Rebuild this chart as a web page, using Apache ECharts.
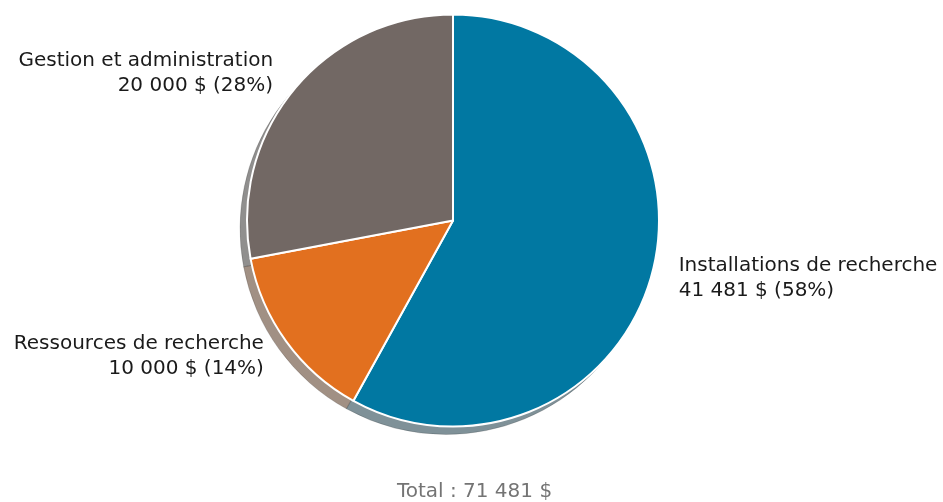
<!DOCTYPE html>
<html>
<head>
<meta charset="utf-8">
<script src="https://cdn.jsdelivr.net/npm/echarts@6/dist/echarts.min.js"></script>
<style>
html,body{margin:0;padding:0;background:#fff;}
#chart{width:943px;height:502px;}
</style>
</head>
<body>
<div id="chart"></div>
<script>
const categories = ['Installations de recherche', 'Ressources de recherche', 'Gestion et administration'];
const values = [41481, 10000, 20000];
const sliceColors = ['#0178A2', '#E2701F', '#726864'];
const shadowColors = ['rgba(0,36,49,0.5)', 'rgba(68,34,9,0.5)', 'rgba(34,31,30,0.5)'];
const totalLabel = 'Total : ';

const total = values.reduce((a, b) => a + b, 0);
function fmt(n) {
  return String(n).replace(/\B(?=(\d{3})+(?!\d))/g, ' ');
}

const cx = 453, cy = 220.5, R = 206;

const chart = echarts.init(document.getElementById('chart'), null, {renderer: 'canvas'});
chart.setOption({
  backgroundColor: '#ffffff',
  animation: false,
  series: [
    {
      type: 'pie',
      silent: true,
      z: 1,
      center: [cx - 7, cy + 8],
      radius: [0, R],
      startAngle: 90,
      clockwise: true,
      label: {show: false},
      labelLine: {show: false},
      itemStyle: {borderColor: 'rgba(0,0,0,0.15)', borderWidth: 1},
      data: categories.map((c, i) => ({name: c, value: values[i], itemStyle: {color: shadowColors[i]}}))
    },
    {
      type: 'pie',
      z: 2,
      center: [cx, cy],
      radius: [0, R],
      startAngle: 90,
      clockwise: true,
      avoidLabelOverlap: false,
      label: {
        show: true,
        position: 'outside',
        alignTo: 'none',
        distanceToLabelLine: 2,
        fontFamily: 'DejaVu Sans',
        fontSize: 20,
        lineHeight: 25,
        color: '#1a1a1a',
        formatter: p => p.name + '\n' + fmt(p.value) + ' $ (' + Math.round(p.value / total * 100) + '%)'
      },
      labelLine: {show: false, length: 25, length2: 0},
      itemStyle: {borderColor: '#ffffff', borderWidth: 2},
      emphasis: {disabled: true},
      data: categories.map((c, i) => ({name: c, value: values[i], itemStyle: {color: sliceColors[i]}}))
    }
  ],
  graphic: [{
    type: 'text',
    x: 474.5,
    y: 492,
    style: {
      text: totalLabel + fmt(total) + ' $',
      fontFamily: 'DejaVu Sans',
      fontSize: 20,
      fill: '#747474',
      align: 'center',
      verticalAlign: 'middle'
    }
  }]
});
</script>
</body>
</html>
